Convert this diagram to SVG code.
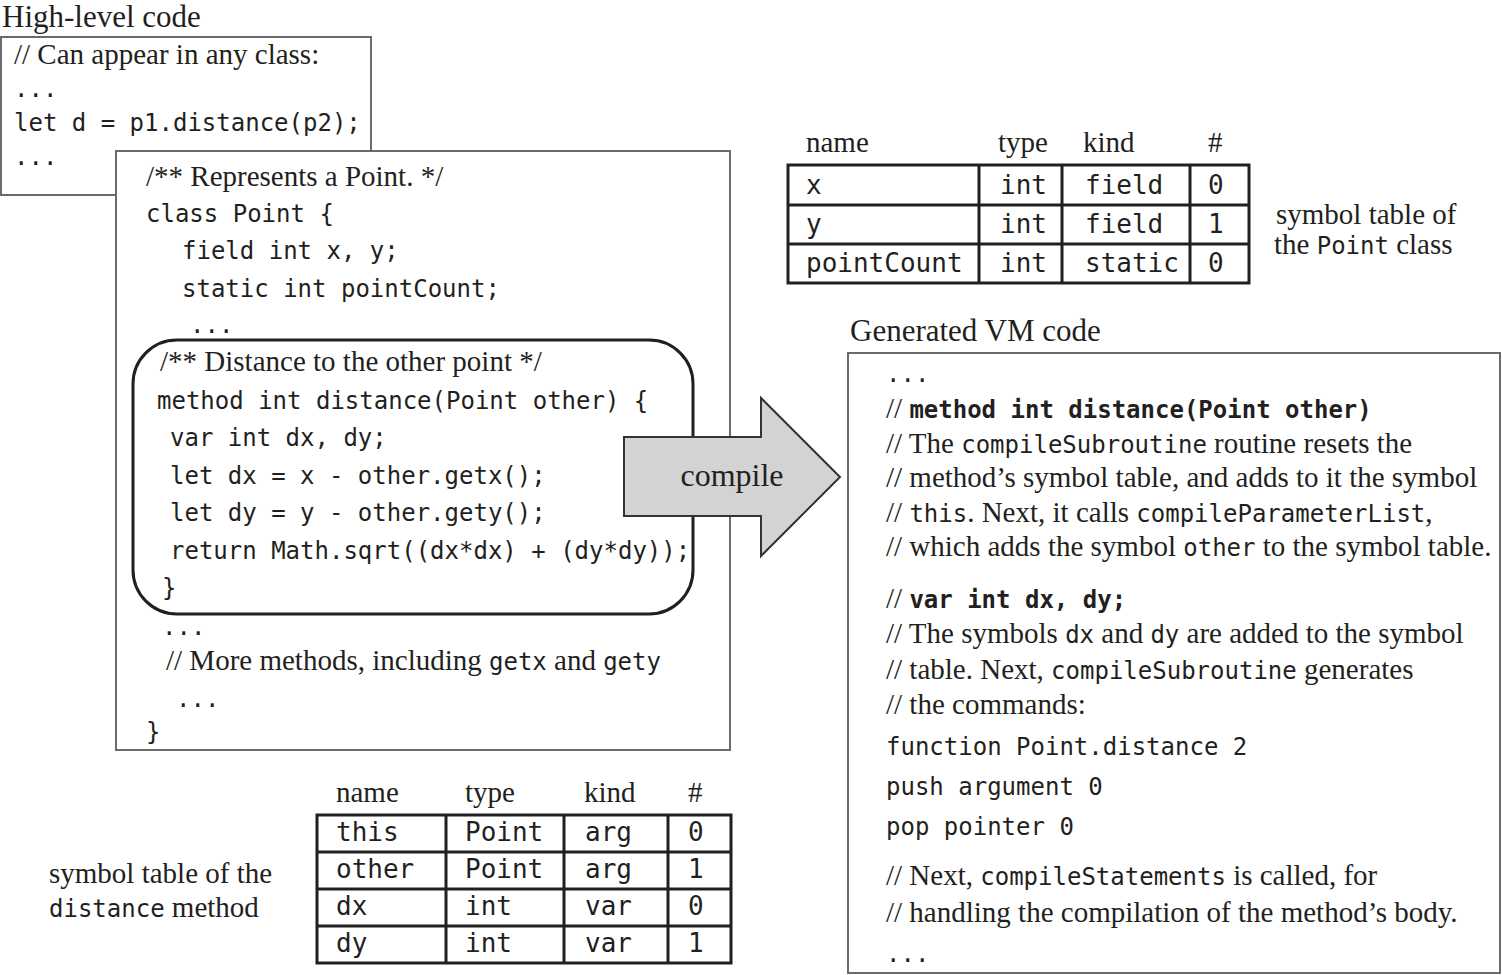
<svg xmlns="http://www.w3.org/2000/svg" width="1502" height="975" viewBox="0 0 1502 975">
  <style>
    text { fill: #231f20; }
    .s { font-family: "Liberation Serif", "Times New Roman", serif; font-size: 29px; }
    .t { font-family: "Liberation Serif", "Times New Roman", serif; font-size: 31px; }
    .m { font-family: "DejaVu Sans Mono", "Liberation Mono", monospace; font-size: 24px; }
    .mb { font-family: "DejaVu Sans Mono", "Liberation Mono", monospace; font-size: 24px; font-weight: bold; }
    .tm { font-family: "DejaVu Sans Mono", "Liberation Mono", monospace; font-size: 26px; }
    .box { fill: #ffffff; stroke: #6b6b6b; stroke-width: 2; }
    .grid { fill: none; stroke: #231f20; stroke-width: 3; }
    .scope { fill: none; stroke: #231f20; stroke-width: 3; }
    .arrow { fill: #d3d3d3; stroke: #333333; stroke-width: 2; stroke-linejoin: miter; }
  </style>

  <!-- Caller snippet -->
  <g id="high-level-code">
    <text class="t" x="2" y="27">High-level code</text>
    <rect class="box" x="1" y="37" width="370" height="158"/>
    <text class="s" x="14" y="64">// Can appear in any class:</text>
    <text class="m" x="14" y="97">...</text>
    <text class="m" x="14" y="131">let d = p1.distance(p2);</text>
    <text class="m" x="14" y="165">...</text>
  </g>

  <!-- Point class source -->
  <g id="point-class">
    <rect class="box" x="116" y="151" width="614" height="599"/>
    <text class="s" x="146" y="186">/** Represents a Point. */</text>
    <text class="m" x="146" y="222">class Point {</text>
    <text class="m" x="182" y="259">field int x, y;</text>
    <text class="m" x="182" y="297">static int pointCount;</text>
    <text class="m" x="190" y="333">...</text>
    <text class="m" x="162" y="635">...</text>
    <text class="s" x="166" y="670">// More methods, including <tspan class="m">getx</tspan> and <tspan class="m">gety</tspan></text>
    <text class="m" x="176" y="707">...</text>
    <text class="m" x="146" y="740">}</text>
  </g>

  <!-- distance method, outlined -->
  <g id="distance-method">
    <rect class="scope" x="133" y="340" width="560" height="274" rx="44" ry="44"/>
    <text class="s" x="160" y="371">/** Distance to the other point */</text>
    <text class="m" x="157" y="409">method int distance(Point other) {</text>
    <text class="m" x="170" y="446">var int dx, dy;</text>
    <text class="m" x="170" y="484">let dx = x - other.getx();</text>
    <text class="m" x="170" y="521">let dy = y - other.gety();</text>
    <text class="m" x="170" y="559">return Math.sqrt((dx*dx) + (dy*dy));</text>
    <text class="m" x="162" y="596">}</text>
  </g>

  <!-- compile arrow -->
  <g id="compile-arrow">
    <polygon class="arrow" points="624,437 761,437 761,398 840,477 761,556 761,516 624,516"/>
    <text class="t" x="732" y="486" text-anchor="middle" style="font-size:32px">compile</text>
  </g>

  <!-- Class-level symbol table -->
  <g id="class-symbol-table">
    <text class="s" x="806" y="152">name</text>
    <text class="s" x="998" y="152">type</text>
    <text class="s" x="1083" y="152">kind</text>
    <text class="s" x="1208" y="152">#</text>
    <rect class="grid" x="788" y="165" width="461" height="118"/>
    <path class="grid" d="M788 205H1249M788 244H1249M979 165V283M1062 165V283M1190 165V283"/>
    <text class="tm" x="806" y="194">x</text>
    <text class="tm" x="1000" y="194">int</text>
    <text class="tm" x="1085" y="194">field</text>
    <text class="tm" x="1208" y="194">0</text>
    <text class="tm" x="806" y="233">y</text>
    <text class="tm" x="1000" y="233">int</text>
    <text class="tm" x="1085" y="233">field</text>
    <text class="tm" x="1208" y="233">1</text>
    <text class="tm" x="806" y="272">pointCount</text>
    <text class="tm" x="1000" y="272">int</text>
    <text class="tm" x="1085" y="272">static</text>
    <text class="tm" x="1208" y="272">0</text>
    <text class="s" x="1276" y="224">symbol table of</text>
    <text class="s" x="1274" y="254">the <tspan class="m">Point</tspan> class</text>
  </g>

  <!-- Generated VM code -->
  <g id="vm-code">
    <text class="t" x="850" y="341">Generated VM code</text>
    <rect class="box" x="848" y="353" width="652" height="620"/>
    <text class="m" x="886" y="382">...</text>
    <text class="s" x="886" y="418">// <tspan class="mb">method int distance(Point other)</tspan></text>
    <text class="s" x="886" y="453">// The <tspan class="m">compileSubroutine</tspan> routine resets the</text>
    <text class="s" x="886" y="487">// method’s symbol table, and adds to it the symbol</text>
    <text class="s" x="886" y="522">// <tspan class="m">this</tspan>. Next, it calls <tspan class="m">compileParameterList</tspan>,</text>
    <text class="s" x="886" y="556">// which adds the symbol <tspan class="m">other</tspan> to the symbol table.</text>
    <text class="s" x="886" y="608">// <tspan class="mb">var int dx, dy;</tspan></text>
    <text class="s" x="886" y="643">// The symbols <tspan class="m">dx</tspan> and <tspan class="m">dy</tspan> are added to the symbol</text>
    <text class="s" x="886" y="679">// table. Next, <tspan class="m">compileSubroutine</tspan> generates</text>
    <text class="s" x="886" y="714">// the commands:</text>
    <text class="m" x="886" y="755">function Point.distance 2</text>
    <text class="m" x="886" y="795">push argument 0</text>
    <text class="m" x="886" y="835">pop pointer 0</text>
    <text class="s" x="886" y="885">// Next, <tspan class="m">compileStatements</tspan> is called, for</text>
    <text class="s" x="886" y="922">// handling the compilation of the method’s body.</text>
    <text class="m" x="886" y="962">...</text>
  </g>

  <!-- Method-level symbol table -->
  <g id="method-symbol-table">
    <text class="s" x="336" y="802">name</text>
    <text class="s" x="465" y="802">type</text>
    <text class="s" x="584" y="802">kind</text>
    <text class="s" x="688" y="802">#</text>
    <rect class="grid" x="317" y="815" width="414" height="148"/>
    <path class="grid" d="M317 852H731M317 889H731M317 926H731M446 815V963M564 815V963M668 815V963"/>
    <text class="tm" x="336" y="841">this</text>
    <text class="tm" x="465" y="841">Point</text>
    <text class="tm" x="585" y="841">arg</text>
    <text class="tm" x="688" y="841">0</text>
    <text class="tm" x="336" y="878">other</text>
    <text class="tm" x="465" y="878">Point</text>
    <text class="tm" x="585" y="878">arg</text>
    <text class="tm" x="688" y="878">1</text>
    <text class="tm" x="336" y="915">dx</text>
    <text class="tm" x="465" y="915">int</text>
    <text class="tm" x="585" y="915">var</text>
    <text class="tm" x="688" y="915">0</text>
    <text class="tm" x="336" y="952">dy</text>
    <text class="tm" x="465" y="952">int</text>
    <text class="tm" x="585" y="952">var</text>
    <text class="tm" x="688" y="952">1</text>
    <text class="s" x="49" y="883">symbol table of the</text>
    <text class="s" x="49" y="917"><tspan class="m">distance</tspan> method</text>
  </g>
</svg>
